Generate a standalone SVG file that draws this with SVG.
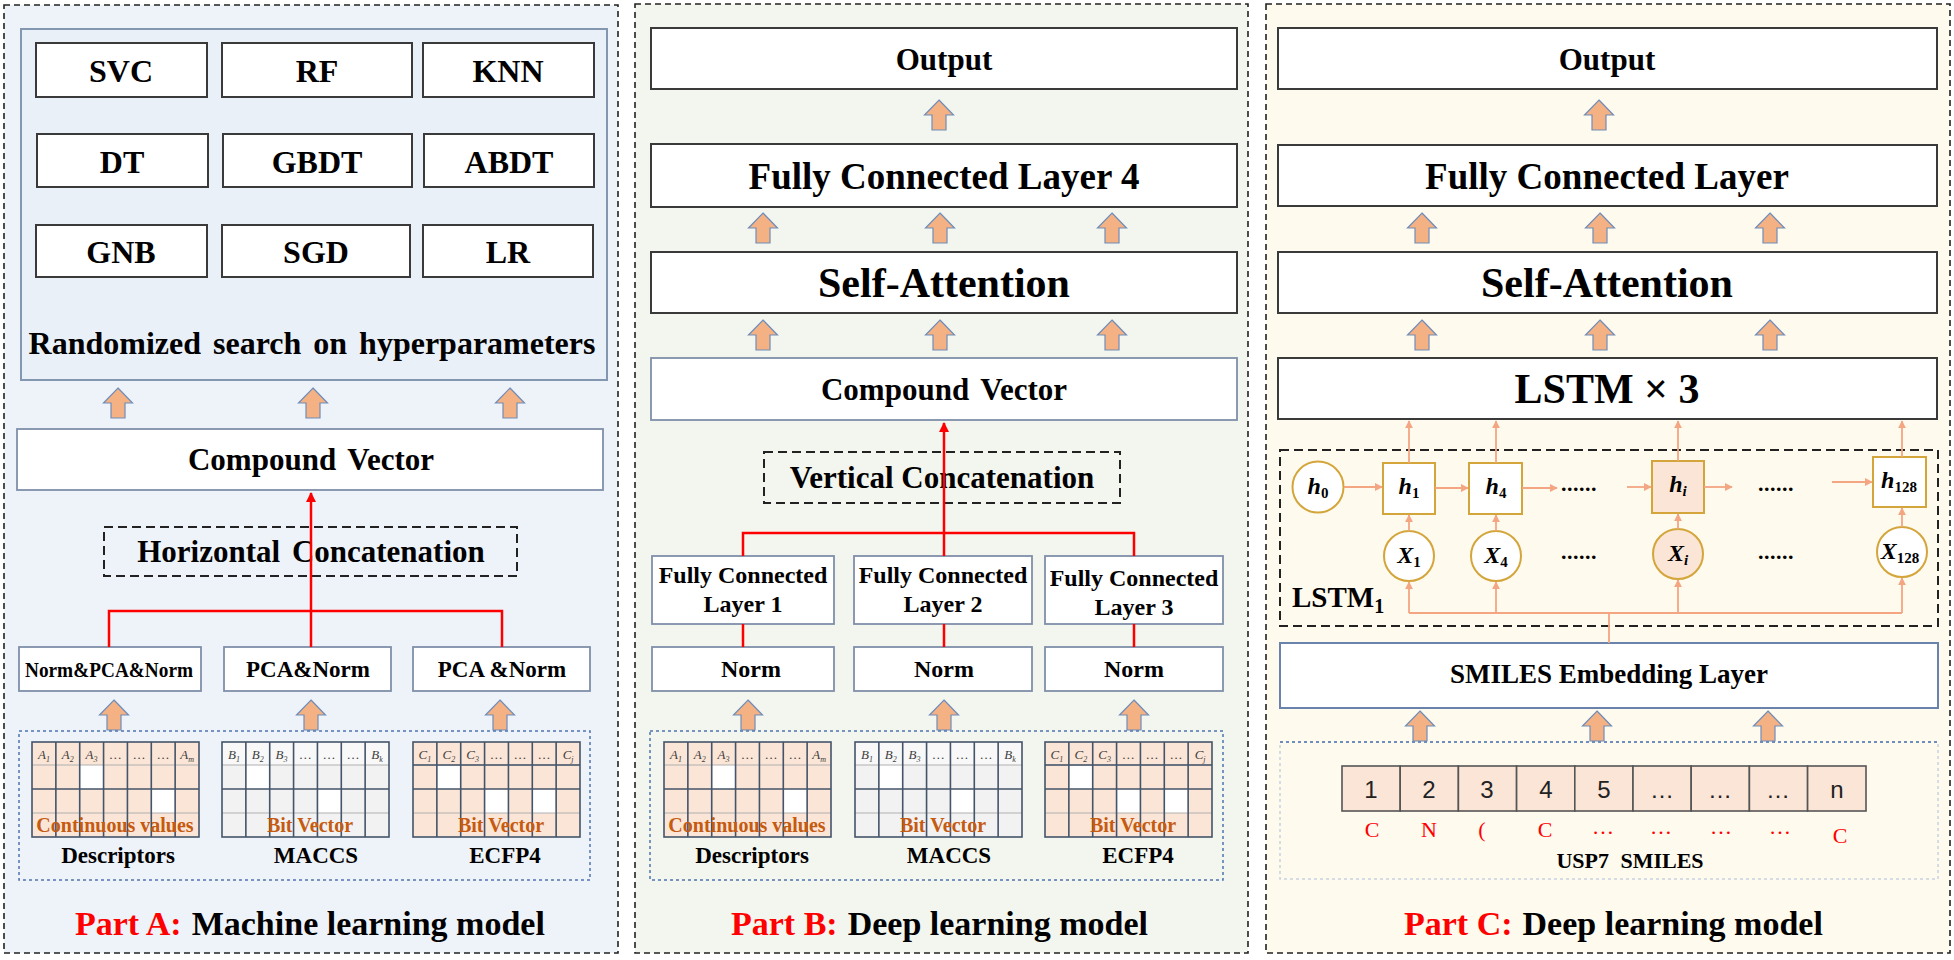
<svg xmlns="http://www.w3.org/2000/svg" xmlns:xlink="http://www.w3.org/1999/xlink" width="1954" height="960" viewBox="0 0 1954 960">
<style>
.panel{stroke:#222;stroke-width:1.6;stroke-dasharray:6 4}
.box{fill:#fff;stroke:#3a3a3a;stroke-width:2}
.bbox{fill:#fff;stroke:#7F8FA9;stroke-width:1.8}
.t{font-family:"Liberation Serif","Times New Roman",serif;font-weight:bold;fill:#000;text-anchor:middle}
.red{stroke:#FF0000;stroke-width:2.5;fill:none}
.thin{stroke:#F4A582;stroke-width:1.8;fill:none}
.dash{fill:none;stroke:#222;stroke-width:2;stroke-dasharray:9 5}
.dot{fill:none;stroke:#4F74B0;stroke-width:1.5;stroke-dasharray:3 3}
.hdr{font-family:"Liberation Serif","Times New Roman",serif;font-style:italic;font-size:13px;fill:#404040;text-anchor:middle}
.otx{font-family:"Liberation Serif","Times New Roman",serif;font-weight:bold;font-size:20px;fill:#C55A11;text-anchor:middle}
.lbl{font-family:"Liberation Serif","Times New Roman",serif;font-weight:bold;font-size:23px;fill:#000;text-anchor:middle}
.part{font-family:"Liberation Serif","Times New Roman",serif;font-weight:bold;font-size:34px}
.node{fill:#fff;stroke:#D4A53A;stroke-width:2}
.math{font-family:"Liberation Serif","Times New Roman",serif;font-weight:bold;font-style:italic;font-size:24px;fill:#000;text-anchor:middle}
.sub{font-style:normal;font-size:15px}
.cell{fill:#FBE5D6;stroke:#555;stroke-width:1.6}
.num{font-family:"Liberation Sans",Arial,sans-serif;font-size:24px;fill:#222;text-anchor:middle}
.rl{font-family:"Liberation Serif","Times New Roman",serif;font-size:22px;fill:#FF0000;text-anchor:middle}
</style>
<defs>
<path id="barrow" d="M0,0 L14.5,15 L7,15 L7,30 L-7,30 L-7,15 L-14.5,15 Z" fill="#F4B183" stroke="#6F8DBA" stroke-width="1.2"/>
<marker id="rh" viewBox="0 0 10 10" refX="9" refY="5" markerWidth="10" markerHeight="10" markerUnits="userSpaceOnUse" orient="auto"><path d="M0,0 L10,5 L0,10 Z" fill="#FF0000"/></marker>
<marker id="oh" viewBox="0 0 10 10" refX="9" refY="5" markerWidth="8" markerHeight="8" markerUnits="userSpaceOnUse" orient="auto"><path d="M0,0 L10,5 L0,10 Z" fill="#F4A582"/></marker>
<g id="grid">
<path d="M0,23H167 M0,71H167" stroke="#B0B0B0" stroke-width="1"/>
<path d="M23.86,0V95 M47.71,0V95 M71.57,0V95 M95.43,0V95 M119.29,0V95 M143.14,0V95 M0,47H167" stroke="#44546A" stroke-width="1.6" fill="none"/>
<rect x="0" y="0" width="167" height="95" fill="none" stroke="#44546A" stroke-width="1.6"/>
</g>
<g id="tabA">
<rect x="0" y="0" width="167" height="95" fill="#FBE5D6"/>
<rect x="47.71" y="23" width="23.86" height="24" fill="#fff"/>
<rect x="119.29" y="47" width="23.86" height="24" fill="#fff"/>
<text class="hdr" y="17"><tspan x="11.9">A<tspan font-size="8" dy="3">1</tspan></tspan><tspan x="35.8" dy="-3">A<tspan font-size="8" dy="3">2</tspan></tspan><tspan x="59.6" dy="-3">A<tspan font-size="8" dy="3">3</tspan></tspan><tspan x="83.5" dy="-3">…</tspan><tspan x="107.4">…</tspan><tspan x="131.2">…</tspan><tspan x="155.1">A<tspan font-size="8" dy="3">m</tspan></tspan></text>
<use xlink:href="#grid"/>
<text class="otx" x="83" y="90">Continuous values</text>
</g>
<g id="tabB">
<rect x="0" y="0" width="167" height="95" fill="#F2F2F2"/>
<rect x="0" y="0" width="167" height="23" fill="#F8F8F8"/>
<rect x="23.86" y="23" width="23.86" height="24" fill="#fff"/>
<rect x="95.43" y="47" width="23.86" height="24" fill="#fff"/>
<text class="hdr" y="17"><tspan x="11.9">B<tspan font-size="8" dy="3">1</tspan></tspan><tspan x="35.8" dy="-3">B<tspan font-size="8" dy="3">2</tspan></tspan><tspan x="59.6" dy="-3">B<tspan font-size="8" dy="3">3</tspan></tspan><tspan x="83.5" dy="-3">…</tspan><tspan x="107.4">…</tspan><tspan x="131.2">…</tspan><tspan x="155.1">B<tspan font-size="8" dy="3">k</tspan></tspan></text>
<use xlink:href="#grid"/>
<text class="otx" x="88" y="90">Bit Vector</text>
</g>
<g id="tabC">
<rect x="0" y="0" width="167" height="95" fill="#FBE5D6"/>
<rect x="23.86" y="23" width="23.86" height="24" fill="#fff"/>
<rect x="71.57" y="47" width="23.86" height="24" fill="#fff"/>
<rect x="119.29" y="47" width="23.86" height="24" fill="#fff"/>
<text class="hdr" y="17"><tspan x="11.9">C<tspan font-size="8" dy="3">1</tspan></tspan><tspan x="35.8" dy="-3">C<tspan font-size="8" dy="3">2</tspan></tspan><tspan x="59.6" dy="-3">C<tspan font-size="8" dy="3">3</tspan></tspan><tspan x="83.5" dy="-3">…</tspan><tspan x="107.4">…</tspan><tspan x="131.2">…</tspan><tspan x="155.1">C<tspan font-size="8" dy="3">j</tspan></tspan></text>
<use xlink:href="#grid"/>
<path d="M0,23H167" stroke="#44546A" stroke-width="1.6"/>
<text class="otx" x="88" y="90">Bit Vector</text>
</g>
</defs>

<!-- panels -->
<g id="panels">
<rect x="4" y="5" width="614" height="948" fill="#EEF3FA" class="panel"/>
<rect x="635" y="4" width="613" height="949" fill="#F3F6EE" class="panel"/>
<rect x="1266" y="4" width="684" height="949" fill="#FEFAEE" class="panel"/>
</g>

<!-- Part A -->
<g id="a-search">
<rect x="21" y="29" width="586" height="351" fill="#EAF0F8" stroke="#8497B0" stroke-width="2"/>
<text class="t" x="312" y="354" font-size="32" word-spacing="4">Randomized search on hyperparameters</text>
</g>
<g id="a-models">
<rect class="box" x="36" y="43" width="171" height="54"/><text class="t" x="121" y="82" font-size="32">SVC</text>
<rect class="box" x="222" y="43" width="190" height="54"/><text class="t" x="317" y="82" font-size="32">RF</text>
<rect class="box" x="423" y="43" width="171" height="54"/><text class="t" x="508" y="82" font-size="32">KNN</text>
<rect class="box" x="37" y="134" width="171" height="53"/><text class="t" x="122" y="173" font-size="32">DT</text>
<rect class="box" x="223" y="134" width="189" height="53"/><text class="t" x="317" y="173" font-size="32">GBDT</text>
<rect class="box" x="424" y="134" width="170" height="53"/><text class="t" x="509" y="173" font-size="32">ABDT</text>
<rect class="box" x="36" y="225" width="171" height="52"/><text class="t" x="121" y="263" font-size="32">GNB</text>
<rect class="box" x="222" y="225" width="188" height="52"/><text class="t" x="316" y="263" font-size="32">SGD</text>
<rect class="box" x="423" y="225" width="170" height="52"/><text class="t" x="508" y="263" font-size="32">LR</text>
</g>
<g id="a-arrows1"><use xlink:href="#barrow" x="118" y="388"/><use xlink:href="#barrow" x="313" y="388"/><use xlink:href="#barrow" x="510" y="388"/></g>
<g id="a-compound">
<rect class="bbox" x="17" y="429" width="586" height="61"/>
<text class="t" x="311" y="470" font-size="31" word-spacing="4">Compound Vector</text>
</g>
<g id="a-concat">
<rect class="dash" x="104" y="527" width="413" height="49"/>
<text class="t" x="311" y="562" font-size="31" word-spacing="4">Horizontal Concatenation</text>
</g>
<g id="a-prep">
<rect class="bbox" x="19" y="647" width="182" height="44"/><text class="t" x="109" y="677" font-size="20" textLength="168" lengthAdjust="spacingAndGlyphs">Norm&amp;PCA&amp;Norm</text>
<rect class="bbox" x="224" y="647" width="167" height="44"/><text class="t" x="308" y="677" font-size="23">PCA&amp;Norm</text>
<rect class="bbox" x="413" y="647" width="177" height="44"/><text class="t" x="502" y="677" font-size="23">PCA &amp;Norm</text>
</g>
<g id="a-arrows2"><use xlink:href="#barrow" x="114" y="700"/><use xlink:href="#barrow" x="311" y="700"/><use xlink:href="#barrow" x="500" y="700"/></g>
<g id="a-features">
<rect class="dot" x="19" y="731" width="571" height="149"/>
<use xlink:href="#tabA" x="32" y="742"/>
<use xlink:href="#tabB" x="222" y="742"/>
<use xlink:href="#tabC" x="413" y="742"/>
<text class="lbl" x="118" y="863">Descriptors</text>
<text class="lbl" x="316" y="863">MACCS</text>
<text class="lbl" x="505" y="863">ECFP4</text>
</g>
<g id="a-title"><text class="part" x="75" y="935"><tspan fill="#FF0000">Part A:</tspan><tspan fill="#000" dx="10">Machine learning model</tspan></text></g>

<!-- Part B -->
<g id="b-output"><rect class="box" x="651" y="28" width="586" height="61"/><text class="t" x="944" y="70" font-size="31">Output</text></g>
<g id="b-fc4"><rect class="box" x="651" y="144" width="586" height="63"/><text class="t" x="944" y="189" font-size="37">Fully Connected Layer 4</text></g>
<g id="b-att"><rect class="box" x="651" y="252" width="586" height="61"/><text class="t" x="944" y="297" font-size="42">Self-Attention</text></g>
<g id="b-compound"><rect class="bbox" x="651" y="358" width="586" height="62"/><text class="t" x="944" y="400" font-size="31" word-spacing="4">Compound Vector</text></g>
<g id="b-arrows">
<use xlink:href="#barrow" x="939" y="100"/>
<use xlink:href="#barrow" x="763" y="213"/><use xlink:href="#barrow" x="940" y="213"/><use xlink:href="#barrow" x="1112" y="213"/>
<use xlink:href="#barrow" x="763" y="320"/><use xlink:href="#barrow" x="940" y="320"/><use xlink:href="#barrow" x="1112" y="320"/>
<use xlink:href="#barrow" x="748" y="700"/><use xlink:href="#barrow" x="944" y="700"/><use xlink:href="#barrow" x="1134" y="700"/>
</g>
<g id="b-concat"><rect class="dash" x="764" y="452" width="356" height="51"/><text class="t" x="942" y="488" font-size="31">Vertical Concatenation</text></g>
<g id="b-fc">
<rect class="bbox" x="652" y="556" width="182" height="68"/><text class="t" x="743" y="583" font-size="24">Fully Connected</text><text class="t" x="743" y="612" font-size="24">Layer 1</text>
<rect class="bbox" x="854" y="556" width="178" height="68"/><text class="t" x="943" y="583" font-size="24">Fully Connected</text><text class="t" x="943" y="612" font-size="24">Layer 2</text>
<rect class="bbox" x="1045" y="556" width="178" height="68"/><text class="t" x="1134" y="586" font-size="24">Fully Connected</text><text class="t" x="1134" y="615" font-size="24">Layer 3</text>
</g>
<g id="b-norm">
<rect class="bbox" x="652" y="647" width="182" height="44"/><text class="t" x="751" y="677" font-size="24">Norm</text>
<rect class="bbox" x="854" y="647" width="178" height="44"/><text class="t" x="944" y="677" font-size="24">Norm</text>
<rect class="bbox" x="1045" y="647" width="178" height="44"/><text class="t" x="1134" y="677" font-size="24">Norm</text>
</g>
<g id="b-features">
<rect class="dot" x="650" y="731" width="573" height="149"/>
<use xlink:href="#tabA" x="664" y="742"/>
<use xlink:href="#tabB" x="855" y="742"/>
<use xlink:href="#tabC" x="1045" y="742"/>
<text class="lbl" x="752" y="863">Descriptors</text>
<text class="lbl" x="949" y="863">MACCS</text>
<text class="lbl" x="1138" y="863">ECFP4</text>
</g>
<g id="b-title"><text class="part" x="731" y="935"><tspan fill="#FF0000">Part B:</tspan><tspan fill="#000" dx="10">Deep learning model</tspan></text></g>

<!-- Part C -->
<g id="c-output"><rect class="box" x="1278" y="28" width="659" height="61"/><text class="t" x="1607" y="70" font-size="31">Output</text></g>
<g id="c-fc"><rect class="box" x="1278" y="145" width="659" height="61"/><text class="t" x="1607" y="189" font-size="37">Fully Connected Layer</text></g>
<g id="c-att"><rect class="box" x="1278" y="252" width="659" height="61"/><text class="t" x="1607" y="297" font-size="42">Self-Attention</text></g>
<g id="c-lstm3"><rect class="box" x="1278" y="358" width="659" height="61"/><text class="t" x="1607" y="403" font-size="42">LSTM × 3</text></g>
<g id="c-arrows">
<use xlink:href="#barrow" x="1599" y="100"/>
<use xlink:href="#barrow" x="1422" y="213"/><use xlink:href="#barrow" x="1600" y="213"/><use xlink:href="#barrow" x="1770" y="213"/>
<use xlink:href="#barrow" x="1422" y="320"/><use xlink:href="#barrow" x="1600" y="320"/><use xlink:href="#barrow" x="1770" y="320"/>
<use xlink:href="#barrow" x="1420" y="711"/><use xlink:href="#barrow" x="1597" y="711"/><use xlink:href="#barrow" x="1768" y="711"/>
</g>
<g id="c-lstm1">
<rect class="dash" x="1280" y="450" width="658" height="176"/>
<text class="t" x="1292" y="607" font-size="29" style="text-anchor:start">LSTM<tspan font-size="20" dy="6">1</tspan></text>
</g>
<g id="c-h0"><circle class="node" cx="1318" cy="487" r="25.5"/><text class="math" x="1318" y="494">h<tspan class="sub" dy="4">0</tspan></text></g>
<g id="c-h1"><rect class="node" x="1383" y="463" width="52" height="51"/><text class="math" x="1409" y="494">h<tspan class="sub" dy="4">1</tspan></text></g>
<g id="c-h4"><rect class="node" x="1469" y="463" width="53" height="51"/><text class="math" x="1496" y="494">h<tspan class="sub" dy="4">4</tspan></text></g>
<g id="c-hi"><rect class="node" x="1652" y="461" width="52" height="52" style="fill:#FBE5D6"/><text class="math" x="1678" y="492">h<tspan class="sub" dy="4" style="font-style:italic">i</tspan></text></g>
<g id="c-h128"><rect class="node" x="1873" y="457" width="53" height="50"/><text class="math" x="1899" y="488">h<tspan class="sub" dy="4">128</tspan></text></g>
<g id="c-x1"><circle class="node" cx="1409" cy="556" r="25"/><text class="math" x="1409" y="563">X<tspan class="sub" dy="4">1</tspan></text></g>
<g id="c-x4"><circle class="node" cx="1496" cy="556" r="25"/><text class="math" x="1496" y="563">X<tspan class="sub" dy="4">4</tspan></text></g>
<g id="c-xi"><circle class="node" cx="1678" cy="554" r="25" style="fill:#FBE5D6"/><text class="math" x="1678" y="561">X<tspan class="sub" dy="4" style="font-style:italic">i</tspan></text></g>
<g id="c-x128"><circle class="node" cx="1902" cy="552" r="25"/><text class="math" x="1900" y="559">X<tspan class="sub" dy="4">128</tspan></text></g>
<g id="c-dots" font-family="Liberation Serif, serif" font-weight="bold" font-size="22" fill="#000">
<text x="1561" y="491" letter-spacing="0.5">......</text>
<text x="1758" y="491" letter-spacing="0.5">......</text>
<text x="1561" y="559" letter-spacing="0.5">......</text>
<text x="1758" y="559" letter-spacing="0.5">......</text>
</g>
<g id="c-embed"><rect x="1280" y="643" width="658" height="65" fill="#fff" stroke="#6A83AD" stroke-width="2"/><text class="t" x="1609" y="683" font-size="27">SMILES Embedding Layer</text></g>
<g id="c-smiles">
<rect x="1280" y="742" width="658" height="137" fill="none" stroke="#C8D2E0" stroke-width="1.5" stroke-dasharray="3 3"/>
<path d="M1280,742H1938" stroke="#4F74B0" stroke-width="1.5" stroke-dasharray="3 3"/>
<rect class="cell" x="1342" y="766" width="58.2" height="45"/>
<rect class="cell" x="1400.2" y="766" width="58.2" height="45"/>
<rect class="cell" x="1458.4" y="766" width="58.2" height="45"/>
<rect class="cell" x="1516.6" y="766" width="58.2" height="45"/>
<rect class="cell" x="1574.8" y="766" width="58.2" height="45"/>
<rect class="cell" x="1633" y="766" width="58.2" height="45"/>
<rect class="cell" x="1691.2" y="766" width="58.2" height="45"/>
<rect class="cell" x="1749.4" y="766" width="58.2" height="45"/>
<rect class="cell" x="1807.6" y="766" width="58.4" height="45"/>
<text class="num" x="1371" y="798">1</text>
<text class="num" x="1429" y="798">2</text>
<text class="num" x="1487" y="798">3</text>
<text class="num" x="1546" y="798">4</text>
<text class="num" x="1604" y="798">5</text>
<text class="num" x="1662" y="798" font-size="18">…</text>
<text class="num" x="1720" y="798" font-size="18">…</text>
<text class="num" x="1778" y="798" font-size="18">…</text>
<text class="num" x="1837" y="798">n</text>
<text class="rl" x="1372" y="837">C</text>
<text class="rl" x="1429" y="837">N</text>
<text class="rl" x="1482" y="837">(</text>
<text class="rl" x="1545" y="837">C</text>
<text class="rl" x="1603" y="834" font-size="18">…</text>
<text class="rl" x="1661" y="834" font-size="18">…</text>
<text class="rl" x="1721" y="834" font-size="18">…</text>
<text class="rl" x="1780" y="834" font-size="18">…</text>
<text class="rl" x="1840" y="843">C</text>
<text class="t" x="1630" y="868" font-size="22" word-spacing="6">USP7 SMILES</text>
</g>
<g id="c-title"><text class="part" x="1404" y="935"><tspan fill="#FF0000">Part C:</tspan><tspan fill="#000" dx="10">Deep learning model</tspan></text></g>

<!-- connectors -->
<g id="connectors">
<path class="red" d="M311,647 V493" marker-end="url(#rh)"/>
<path class="red" d="M109,647 V611 H502 V647"/>
<path class="red" d="M944,556 V423" marker-end="url(#rh)"/>
<path class="red" d="M743,556 V533 H1134 V556"/>
<path class="red" d="M743,624 V647 M944,624 V647 M1134,624 V647"/>
<g class="thin">
<path d="M1344,487 H1382" marker-end="url(#oh)"/>
<path d="M1435,488 H1468" marker-end="url(#oh)"/>
<path d="M1522,488 H1557" marker-end="url(#oh)"/>
<path d="M1627,487 H1651" marker-end="url(#oh)"/>
<path d="M1704,487 H1732" marker-end="url(#oh)"/>
<path d="M1832,482 H1872" marker-end="url(#oh)"/>
<path d="M1409,531 V515" marker-end="url(#oh)"/>
<path d="M1496,531 V515" marker-end="url(#oh)"/>
<path d="M1678,529 V514" marker-end="url(#oh)"/>
<path d="M1902,527 V508" marker-end="url(#oh)"/>
<path d="M1409,463 V421" marker-end="url(#oh)"/>
<path d="M1496,463 V421" marker-end="url(#oh)"/>
<path d="M1678,461 V421" marker-end="url(#oh)"/>
<path d="M1902,457 V421" marker-end="url(#oh)"/>
<path d="M1409,613 H1902 M1609,613 V643"/>
<path d="M1409,613 V582" marker-end="url(#oh)"/>
<path d="M1496,613 V582" marker-end="url(#oh)"/>
<path d="M1678,613 V580" marker-end="url(#oh)"/>
<path d="M1902,613 V578" marker-end="url(#oh)"/>
</g>
</g>
</svg>
